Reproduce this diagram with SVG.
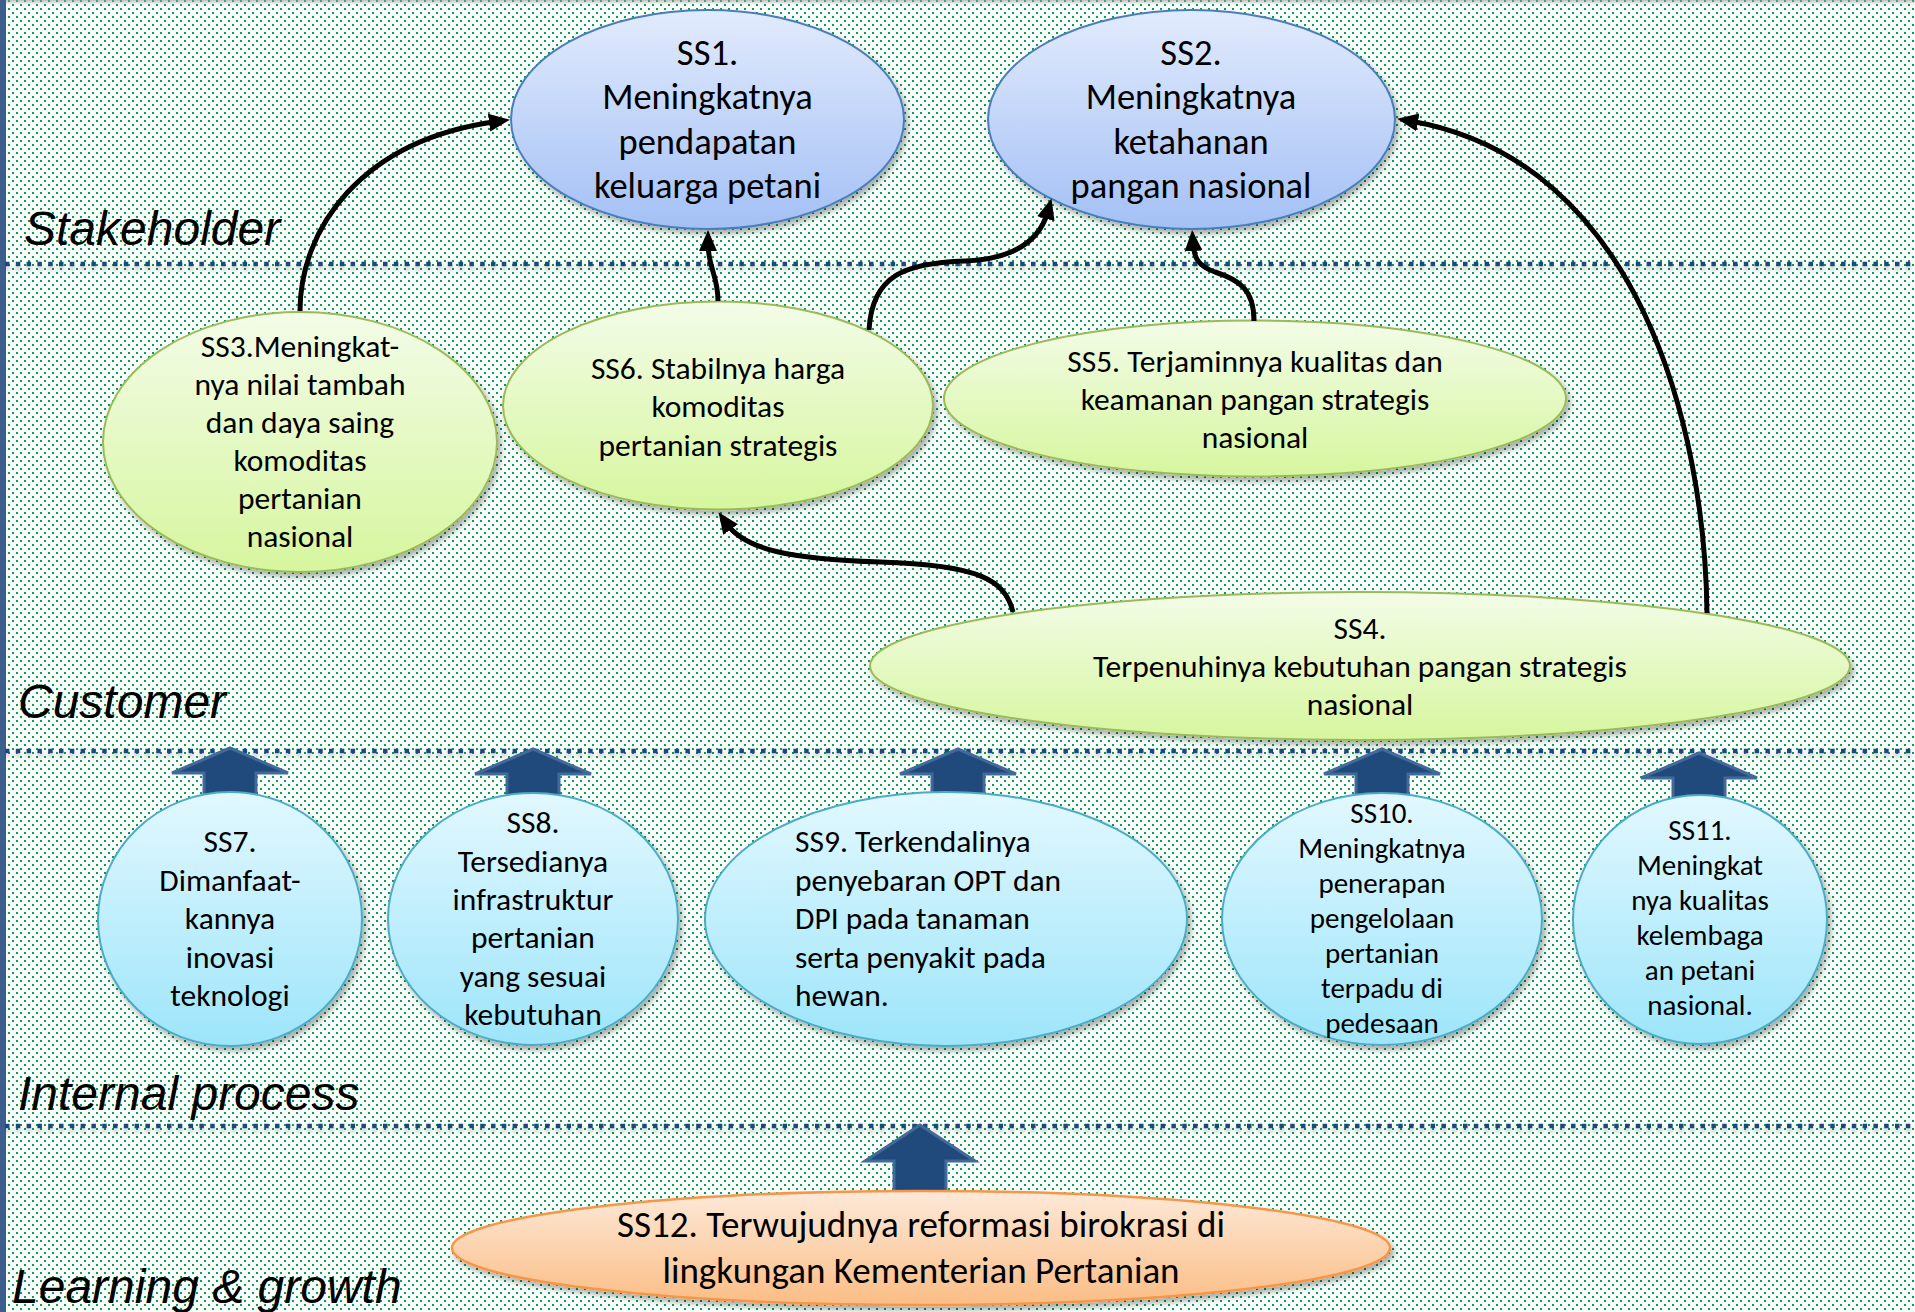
<svg xmlns="http://www.w3.org/2000/svg" xmlns:xlink="http://www.w3.org/1999/xlink" width="1915" height="1312" viewBox="0 0 1915 1312">
<style>
.lbl{font-family:"Liberation Sans",Arial,sans-serif;font-style:italic;font-size:48px;fill:#000}
.t{font-family:Carlito,Lato,"Liberation Sans",sans-serif;fill:#000;text-anchor:middle}
.t36{font-size:36.5px}
.t32{font-size:31.5px}
.t29{font-size:29px}
.sep{stroke:#1f497d;stroke-width:4.5;stroke-dasharray:4.5 6.3;fill:none}
.blue{fill:url(#gBlue);stroke:#4a7ebb;stroke-width:2}
.green{fill:url(#gGreen);stroke:#9bbb59;stroke-width:2}
.cyan{fill:url(#gCyan);stroke:#4bacc6;stroke-width:2}
.orange{fill:url(#gOrange);stroke:#f79646;stroke-width:2.5}
.con{fill:none;stroke:#000;stroke-width:5}
.barrow{fill:#214a7c;stroke:#43699b;stroke-width:3;stroke-linejoin:miter}
</style>
<defs>
<pattern id="dots" width="8" height="8" patternUnits="userSpaceOnUse">
<rect width="8" height="8" fill="#fff"/>
<rect x="0" y="0" width="2" height="2" fill="#00a550"/>
<rect x="4" y="4" width="2" height="2" fill="#00a550"/>
</pattern>
<linearGradient id="gBlue" x1="0" y1="0" x2="0" y2="1"><stop offset="0" stop-color="#e2ebfd"/><stop offset="1" stop-color="#a3c0f5"/></linearGradient>
<linearGradient id="gGreen" x1="0" y1="0" x2="0" y2="1"><stop offset="0" stop-color="#f3fce8"/><stop offset="1" stop-color="#d6f69e"/></linearGradient>
<linearGradient id="gCyan" x1="0" y1="0" x2="0" y2="1"><stop offset="0" stop-color="#e2f8ff"/><stop offset="1" stop-color="#9de5fa"/></linearGradient>
<linearGradient id="gOrange" x1="0" y1="0" x2="0" y2="1"><stop offset="0" stop-color="#fde9d9"/><stop offset="1" stop-color="#fbbd85"/></linearGradient>
<linearGradient id="gTop" x1="0" y1="0" x2="0" y2="1"><stop offset="0" stop-color="#999" stop-opacity="0.6"/><stop offset="1" stop-color="#999" stop-opacity="0"/></linearGradient>
<filter id="sh" x="-10%" y="-10%" width="125%" height="130%">
<feDropShadow dx="3" dy="4" stdDeviation="3" flood-color="#000" flood-opacity="0.35"/>
</filter>
<filter id="lsh" x="0" y="-200%" width="100%" height="500%">
<feDropShadow dx="0" dy="4" stdDeviation="2.5" flood-color="#000" flood-opacity="0.3"/>
</filter>
<marker id="ah" markerUnits="userSpaceOnUse" markerWidth="22" markerHeight="20" refX="8" refY="10" orient="auto">
<path d="M0,1 L21,10 L0,19 Z" fill="#000"/>
</marker>
<path id="bar" d="M0,0 L58,25 L26,25 L26,48 L-26,48 L-26,25 L-58,25 Z"/>
</defs>

<g id="background">
<rect width="1915" height="1312" fill="url(#dots)"/>
<rect x="0" y="0" width="1915" height="5" fill="url(#gTop)"/>
<rect x="0" y="0" width="6" height="1312" fill="#3b5e8c"/>
</g>

<g id="separators" filter="url(#lsh)">
<line class="sep" x1="5" y1="264" x2="1915" y2="264"/>
<line class="sep" x1="5" y1="751" x2="1915" y2="751"/>
<line class="sep" x1="5" y1="1126" x2="1915" y2="1126"/>
</g>

<g id="perspective-labels">
<text class="lbl" x="24" y="245">Stakeholder</text>
<text class="lbl" x="18" y="718">Customer</text>
<text class="lbl" x="18" y="1110">Internal process</text>
<text class="lbl" x="12" y="1303">Learning &amp; growth</text>
</g>

<g id="block-arrows">
<use href="#bar" class="barrow" x="230" y="748"/>
<use href="#bar" class="barrow" x="533" y="749"/>
<use href="#bar" class="barrow" x="958" y="749"/>
<use href="#bar" class="barrow" x="1382" y="749"/>
<use href="#bar" class="barrow" x="1699" y="753"/>
<path class="barrow" d="M920,1125 L975,1161 L946,1161 L946,1198 L894,1198 L894,1161 L865,1161 Z"/>
</g>

<g id="SS1">
<ellipse class="blue" filter="url(#sh)" cx="707.5" cy="119.5" rx="196.5" ry="109.5"/>
<text class="t t36" x="707.5" y="64.5">SS1.</text>
<text class="t t36" x="707.5" y="109">Meningkatnya</text>
<text class="t t36" x="707.5" y="153.5">pendapatan</text>
<text class="t t36" x="707.5" y="198">keluarga petani</text>
</g>

<g id="SS2">
<ellipse class="blue" filter="url(#sh)" cx="1191.5" cy="119.5" rx="203.5" ry="109.5"/>
<text class="t t36" x="1191" y="64.5">SS2.</text>
<text class="t t36" x="1191" y="109">Meningkatnya</text>
<text class="t t36" x="1191" y="153.5">ketahanan</text>
<text class="t t36" x="1191" y="198">pangan nasional</text>
</g>

<g id="SS3">
<ellipse class="green" filter="url(#sh)" cx="300" cy="442" rx="197" ry="130"/>
<text class="t t32" x="300" y="357">SS3.Meningkat-</text>
<text class="t t32" x="300" y="395">nya nilai tambah</text>
<text class="t t32" x="300" y="433">dan daya saing</text>
<text class="t t32" x="300" y="471">komoditas</text>
<text class="t t32" x="300" y="509">pertanian</text>
<text class="t t32" x="300" y="547">nasional</text>
</g>

<g id="SS6">
<ellipse class="green" filter="url(#sh)" cx="718" cy="405.5" rx="215" ry="104"/>
<text class="t t32" x="718" y="379">SS6. Stabilnya harga</text>
<text class="t t32" x="718" y="417">komoditas</text>
<text class="t t32" x="718" y="455.5">pertanian strategis</text>
</g>

<g id="SS5">
<ellipse class="green" filter="url(#sh)" cx="1255" cy="398.5" rx="311" ry="78"/>
<text class="t t32" x="1255" y="372">SS5. Terjaminnya kualitas dan</text>
<text class="t t32" x="1255" y="410">keamanan pangan strategis</text>
<text class="t t32" x="1255" y="448">nasional</text>
</g>

<g id="SS4">
<ellipse class="green" filter="url(#sh)" cx="1360" cy="666" rx="490" ry="74"/>
<text class="t t32" x="1360" y="639">SS4.</text>
<text class="t t32" x="1360" y="677">Terpenuhinya kebutuhan pangan strategis</text>
<text class="t t32" x="1360" y="715">nasional</text>
</g>

<g id="SS7">
<ellipse class="cyan" filter="url(#sh)" cx="230" cy="919" rx="132" ry="127"/>
<text class="t t32" x="230" y="852">SS7.</text>
<text class="t t32" x="230" y="891">Dimanfaat-</text>
<text class="t t32" x="230" y="929">kannya</text>
<text class="t t32" x="230" y="968">inovasi</text>
<text class="t t32" x="230" y="1006">teknologi</text>
</g>

<g id="SS8">
<ellipse class="cyan" filter="url(#sh)" cx="533" cy="919" rx="145" ry="126"/>
<text class="t t32" x="533" y="833">SS8.</text>
<text class="t t32" x="533" y="872">Tersedianya</text>
<text class="t t32" x="533" y="910">infrastruktur</text>
<text class="t t32" x="533" y="948">pertanian</text>
<text class="t t32" x="533" y="987">yang sesuai</text>
<text class="t t32" x="533" y="1025">kebutuhan</text>
</g>

<g id="SS9">
<ellipse class="cyan" filter="url(#sh)" cx="946" cy="919" rx="241" ry="127"/>
<text class="t t32" style="text-anchor:start" x="795" y="852">SS9. Terkendalinya</text>
<text class="t t32" style="text-anchor:start" x="795" y="891">penyebaran OPT dan</text>
<text class="t t32" style="text-anchor:start" x="795" y="929">DPI pada tanaman</text>
<text class="t t32" style="text-anchor:start" x="795" y="968">serta penyakit pada</text>
<text class="t t32" style="text-anchor:start" x="795" y="1006">hewan.</text>
</g>

<g id="SS10">
<ellipse class="cyan" filter="url(#sh)" cx="1382" cy="919" rx="160" ry="126"/>
<text class="t t29" x="1382" y="823">SS10.</text>
<text class="t t29" x="1382" y="858">Meningkatnya</text>
<text class="t t29" x="1382" y="893">penerapan</text>
<text class="t t29" x="1382" y="928">pengelolaan</text>
<text class="t t29" x="1382" y="963">pertanian</text>
<text class="t t29" x="1382" y="998">terpadu di</text>
<text class="t t29" x="1382" y="1033">pedesaan</text>
</g>

<g id="SS11">
<ellipse class="cyan" filter="url(#sh)" cx="1700" cy="919.5" rx="127" ry="124.5"/>
<text class="t t29" x="1700" y="840">SS11.</text>
<text class="t t29" x="1700" y="875">Meningkat</text>
<text class="t t29" x="1700" y="910">nya kualitas</text>
<text class="t t29" x="1700" y="945">kelembaga</text>
<text class="t t29" x="1700" y="980">an petani</text>
<text class="t t29" x="1700" y="1015">nasional.</text>
</g>

<g id="SS12">
<ellipse class="orange" filter="url(#sh)" cx="921" cy="1248" rx="469" ry="57"/>
<text class="t" style="font-size:37px" x="921" y="1237">SS12. Terwujudnya reformasi birokrasi di</text>
<text class="t" style="font-size:37px" x="921" y="1283">lingkungan Kementerian Pertanian</text>
</g>

<g id="connectors">
<path class="con" marker-end="url(#ah)" d="M300,311 C300,230 360,140 497,121.5"/>
<path class="con" marker-end="url(#ah)" d="M718,301 C718,275 708,268 708,243"/>
<path class="con" marker-end="url(#ah)" d="M869,330 C872,275 905,263 965,261 C1015,259 1040,240 1048,211"/>
<path class="con" marker-end="url(#ah)" d="M1254,321 C1254,290 1240,280 1215,272 C1198,266 1194,258 1193,243"/>
<path class="con" marker-end="url(#ah)" d="M1013,612 C1005,580 980,565 880,562 C790,559 745,550 726,523"/>
<path class="con" marker-end="url(#ah)" d="M1707,613 C1705,430 1640,160 1410,121"/>
</g>
</svg>
